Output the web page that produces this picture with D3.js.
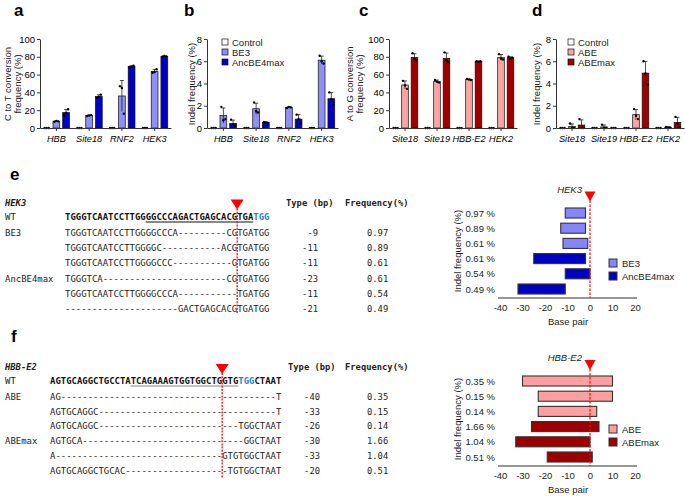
<!DOCTYPE html>
<html>
<head>
<meta charset="utf-8">
<script src="https://cdn.jsdelivr.net/npm/d3@7"></script>
<style>
  body { margin: 0; background: #fff; }
  svg { display: block; font-family: "Liberation Sans", Arial, sans-serif; }
</style>
</head>
<body>
<svg id="fig" width="685" height="496"></svg>
<script>
// ---- panels a-d: replicate values (3 per bar), one array per series ----
const genesAB = ["HBB", "Site18", "RNF2", "HEK3"];
const genesCD = ["Site18", "Site19", "HBB-E2", "HEK2"];
const seriesBE = ["Control", "BE3", "AncBE4max"];
const seriesABE = ["Control", "ABE", "ABEmax"];

const ctrlReps = [[0, 0, 0], [0, 0, 0], [0, 0, 0], [0, 0, 0]];
const aBE3 = [[7, 8, 7.5], [13.5, 14, 14.5], [47, 45, 16], [62, 63, 66]];
const aAnc = [[14, 17, 21], [34, 35, 37.5], [68, 69, 70], [80, 81, 80.5]];
const bBE3 = [[1.9, 0.7, 0.8], [2.3, 1.5, 1.4], [1.8, 1.9, 1.85], [6.5, 6.0, 5.8]];
const bAnc = [[0.75, 0.3, 0.2], [0.55, 0.5, 0.45], [1.2, 0.8, 0.4], [3.2, 2.6, 2.1]];
const cABE = [[53, 48, 44], [54, 52, 51], [55, 54.5, 54], [83, 78, 77]];
const cABEmax = [[84, 78, 76], [85, 76, 74], [75, 74.5, 75], [80, 78, 79]];
const dABE = [[0.4, 0, 0], [0.3, 0, 0], [1.7, 1.1, 0.8], [0.1, 0.05, 0.05]];
const dABEmax = [[0.8, 0, 0], [0, 0, 0], [6.0, 4.9, 3.9], [1.0, 0.4, 0.1]];

const ticksPct = [0, 20, 40, 60, 80, 100];
const ticksIndel = [0, 2, 4, 6, 8];

// ---- panel e ----
const gap = (n) => "-".repeat(n);
const eGene = "HEK3";
const eWT = ["TGGGTCAATCCTTGG", "GGCCCAGACTGAGCACGTGA", "TGG"];
const eLabels = ["BE3", "", "", "AncBE4max", "", ""];
const eSeqs = [
  "TGGGTCAATCCTTGGGGCCCA" + gap(9) + "CGTGATGG",
  "TGGGTCAATCCTTGGGGC" + gap(11) + "ACGTGATGG",
  "TGGGTCAATCCTTGGGGCCC" + gap(11) + "GTGATGG",
  "TGGGTCA" + gap(23) + "CGTGATGG",
  "TGGGTCAATCCTTGGGGCCCA" + gap(11) + "TGATGG",
  gap(21) + "GACTGAGCACGTGATGG",
];
const eTypes = [-9, -11, -11, -23, -11, -21];
const eFreqs = ["0.97", "0.89", "0.61", "0.61", "0.54", "0.49"];
const eEditor = ["BE3", "BE3", "BE3", "AncBE4max", "AncBE4max", "AncBE4max"];
const eStart = [-11, -13, -12, -25, -11, -32];
const eEnd = [-2, -2, -1, -2, 0, -11];

// ---- panel f ----
const fGene = "HBB-E2";
const fWT = ["AGTGCAGGCTGCCTA", "TCAGAAAGTGGTGGCTGGTG", "TGG", "CTAAT"];
const fLabels = ["ABE", "", "", "ABEmax", "", ""];
const fSeqs = [
  "AG" + gap(40) + "T",
  "AGTGCAGGC" + gap(33) + "T",
  "AGTGCAGGC" + gap(26) + "TGGCTAAT",
  "AGTGCA" + gap(30) + "GGCTAAT",
  "A" + gap(31) + "GTGTGGCTAAT",
  "AGTGCAGGCTGCAC" + gap(19) + "TGTGGCTAAT",
];
const fTypes = [-40, -33, -26, -30, -33, -20];
const fFreqs = ["0.35", "0.15", "0.14", "1.66", "1.04", "0.51"];
const fEditor = ["ABE", "ABE", "ABE", "ABEmax", "ABEmax", "ABEmax"];
const fStart = [-30, -23, -23, -26, -33, -19];
const fEnd = [10, 10, 3, 4, 0, 1];

const bpTicks = [-40, -30, -20, -10, 0, 10, 20];

const colors = {
  Control: "#ffffff",
  BE3: "#8f8ff5",
  AncBE4max: "#0000c8",
  ABE: "#f9a3a3",
  ABEmax: "#a00000",
};
const indelColors = {
  BE3: "#8585ff",
  AncBE4max: "#0000c0",
  ABE: "#ff9f9f",
  ABEmax: "#9c0000",
};

const svg = d3.select("#fig");
const MONO = "'DejaVu Sans Mono', 'Liberation Mono', monospace";
const SANS = "Liberation Sans, Arial, sans-serif";
const CW = 5.38; // width of one base in the alignments

const panelLabel = (t, x, y) =>
  svg.append("text").attr("x", x).attr("y", y).attr("font-size", 17)
    .attr("font-weight", "bold").text(t);

panelLabel("a", 14, 16);
panelLabel("b", 184, 16);
panelLabel("c", 359, 16);
panelLabel("d", 532, 16);
panelLabel("e", 10, 180);
panelLabel("f", 11, 342);

// ---------- grouped bar panels ----------
function barPanel(o) {
  const g = svg.append("g");
  const x = d3.scaleBand().domain(o.genes).range([o.x0, o.x0 + o.w])
    .paddingInner(0.2).paddingOuter(0.1);
  const xs = d3.scaleBand().domain(o.series).range([0, x.bandwidth()])
    .paddingInner(0.3);
  const y = d3.scaleLinear().domain([0, o.ymax]).range([128, 39]);

  o.series.forEach((s, si) => {
    o.reps[si].forEach((r, gi) => {
      const m = d3.mean(r);
      const sd = d3.deviation(r) || 0;
      const bx = x(o.genes[gi]) + xs(s);
      const bw = xs.bandwidth();
      if (m > 0) {
        g.append("rect")
          .attr("x", bx).attr("y", y(m))
          .attr("width", bw).attr("height", y(0) - y(m))
          .attr("fill", colors[s]).attr("stroke", "#111").attr("stroke-width", 0.7);
      }
      if (sd > 0) {
        const cx = bx + bw / 2;
        g.append("line").attr("x1", cx).attr("x2", cx)
          .attr("y1", y(Math.max(0, m - sd))).attr("y2", y(m + sd))
          .attr("stroke", "#222").attr("stroke-width", 0.8);
        g.append("line").attr("x1", cx - 2).attr("x2", cx + 2)
          .attr("y1", y(m + sd)).attr("y2", y(m + sd))
          .attr("stroke", "#222").attr("stroke-width", 0.8);
      }
      g.selectAll(null).data(r).join("circle")
        .attr("cx", (d, i) => bx + bw / 2 + (i - 1) * 2)
        .attr("cy", (d) => y(d))
        .attr("r", 1.2).attr("fill", "#000");
    });
  });

  const ya = g.append("g").attr("transform", `translate(${o.x0},0)`)
    .call(d3.axisLeft(y).tickValues(o.ticks).tickSize(3).tickSizeOuter(0).tickPadding(2));
  ya.selectAll("text").attr("font-size", 9.5).attr("font-family", SANS);
  ya.selectAll("path,line").attr("stroke", "#333");

  const xa = g.append("g").attr("transform", `translate(0,${y(0)})`)
    .call(d3.axisBottom(x).tickSize(3).tickSizeOuter(0).tickPadding(4));
  xa.selectAll("text").attr("font-size", 9.2).attr("font-style", "italic")
    .attr("font-family", SANS);
  xa.selectAll("path,line").attr("stroke", "#333");

  o.title.forEach((t, i) => {
    g.append("text")
      .attr("transform", `translate(${o.titleX + i * 10},84) rotate(-90)`)
      .attr("text-anchor", "middle").attr("font-size", 9.5).attr("fill", "#222")
      .text(t);
  });

  if (o.legend) {
    o.series.forEach((s, i) => {
      g.append("rect").attr("x", o.legend[0]).attr("y", o.legend[1] + i * 10 - 3)
        .attr("width", 6).attr("height", 6)
        .attr("fill", colors[s]).attr("stroke", "#111").attr("stroke-width", 0.7);
      g.append("text").attr("x", o.legend[0] + 10).attr("y", o.legend[1] + i * 10 + 3.5)
        .attr("font-size", 9.5).attr("fill", "#222").text(s);
    });
  }
}

barPanel({ x0: 40, w: 131, genes: genesAB, series: seriesBE, reps: [ctrlReps, aBE3, aAnc],
  ymax: 100, ticks: ticksPct, title: ["C to T conversion", "frequency (%)"], titleX: 11 });
barPanel({ x0: 207, w: 131, genes: genesAB, series: seriesBE, reps: [ctrlReps, bBE3, bAnc],
  ymax: 8, ticks: ticksIndel, title: ["Indel frequency (%)"], titleX: 195, legend: [222, 42] });
barPanel({ x0: 389, w: 128, genes: genesCD, series: seriesABE, reps: [ctrlReps, cABE, cABEmax],
  ymax: 100, ticks: ticksPct, title: ["A to G conversion", "frequency (%)"], titleX: 353 });
barPanel({ x0: 556, w: 128, genes: genesCD, series: seriesABE, reps: [ctrlReps, dABE, dABEmax],
  ymax: 8, ticks: ticksIndel, title: ["Indel frequency (%)"], titleX: 540, legend: [568, 42] });

// ---------- sequence alignments ----------
function seqText(g, str, x, y, opts = {}) {
  return g.append("text")
    .attr("x", x).attr("y", y)
    .attr("font-family", MONO).attr("font-size", 8.8)
    .attr("textLength", str.length * CW).attr("lengthAdjust", "spacingAndGlyphs")
    .attr("font-weight", opts.bold ? "bold" : null)
    .attr("fill", opts.color || "#222")
    .text(str);
}

function seqPanel(o) {
  const g = svg.append("g");
  g.append("text").attr("x", 5).attr("y", o.hy + 3).attr("font-family", MONO)
    .attr("font-size", 8.8).attr("font-weight", "bold").attr("font-style", "italic")
    .attr("fill", "#222").text(o.gene);
  g.append("text").attr("x", o.typeX - 32).attr("y", o.hy + 3).attr("font-family", MONO)
    .attr("font-size", 8.8).attr("font-weight", "bold").attr("fill", "#222").text("Type (bp)");
  g.append("text").attr("x", 345).attr("y", o.hy + 3).attr("font-family", MONO)
    .attr("font-size", 8.8).attr("font-weight", "bold").attr("fill", "#222").text("Frequency(%)");

  // WT row
  const wy = o.rows[0] + 3;
  seqText(g, "WT", 5, wy);
  let pos = 0;
  o.wt.forEach((seg, i) => {
    seqText(g, seg, o.x0 + pos * CW, wy, { bold: true, color: i === 2 ? "#2a7fd0" : "#111" });
    if (i === 1) {
      g.append("line").attr("x1", o.x0 + pos * CW).attr("x2", o.x0 + (pos + seg.length) * CW)
        .attr("y1", wy + 2).attr("y2", wy + 2)
        .attr("stroke", o.ulColor).attr("stroke-width", 1.1);
    }
    pos += seg.length;
  });

  o.seqs.forEach((s, i) => {
    const ry = o.rows[i + 1] + 3;
    if (o.labels[i]) seqText(g, o.labels[i], 5, ry);
    seqText(g, s, o.x0, ry);
    g.append("text").attr("x", o.typeX).attr("y", ry).attr("text-anchor", "end")
      .attr("font-family", MONO).attr("font-size", 8.8).attr("fill", "#222").text(o.types[i]);
    g.append("text").attr("x", 367).attr("y", ry)
      .attr("font-family", MONO).attr("font-size", 8.8).attr("fill", "#222").text(o.freqs[i]);
  });

  // cut site: 3 bp upstream of the PAM
  const cx = o.x0 + o.cut * CW;
  g.append("line").attr("x1", cx).attr("x2", cx).attr("y1", o.triY + 9).attr("y2", o.lineEnd)
    .attr("stroke", "#ff0000").attr("stroke-width", 1.3).attr("stroke-dasharray", "2,1.2");
  g.append("path")
    .attr("d", `M${cx - 6.5},${o.triY}L${cx + 6.5},${o.triY}L${cx},${o.triY + 10}Z`)
    .attr("fill", "#ff0000");
}

seqPanel({ gene: eGene, wt: eWT, labels: eLabels, seqs: eSeqs, types: eTypes, freqs: eFreqs,
  x0: 65, hy: 203, rows: [217, 232.5, 248, 263, 278.5, 294, 309], typeX: 318, cut: 32,
  triY: 199.5, lineEnd: 313, ulColor: "#111" });
seqPanel({ gene: fGene, wt: fWT, labels: fLabels, seqs: fSeqs, types: fTypes, freqs: fFreqs,
  x0: 50, hy: 367, rows: [381, 396.5, 411.5, 426, 441, 456, 470.5], typeX: 320, cut: 32,
  triY: 364, lineEnd: 478, ulColor: "#888" });

// ---------- indel position charts ----------
function indelChart(o) {
  const g = svg.append("g");
  const x = d3.scaleLinear().domain([-40, 20]).range([500, 635]);
  const y = d3.scaleBand().domain(d3.range(o.freqs.length)).range(o.yr).paddingInner(0.34).paddingOuter(0.17);

  g.selectAll(null).data(o.freqs).join("rect")
    .attr("x", (d, i) => x(o.start[i]))
    .attr("width", (d, i) => x(o.end[i]) - x(o.start[i]))
    .attr("y", (d, i) => y(i))
    .attr("height", y.bandwidth())
    .attr("fill", (d, i) => indelColors[o.editor[i]])
    .attr("stroke", "#333").attr("stroke-width", 1.1);

  g.selectAll(null).data(o.freqs).join("text")
    .attr("x", 495).attr("y", (d, i) => y(i) + y.bandwidth() / 2 + 3.5)
    .attr("text-anchor", "end").attr("font-size", 9.5).attr("fill", "#222")
    .text((d) => d + " %");

  const xa = g.append("g").attr("transform", `translate(0,${o.axisY})`)
    .call(d3.axisBottom(x).tickValues(bpTicks).tickFormat((d) => String(d))
      .tickSize(0).tickPadding(6).tickSizeOuter(0));
  xa.select(".domain").attr("stroke", "#777").attr("stroke-width", 1.5)
    .attr("d", `M498,0H637`);
  xa.selectAll("text").attr("font-size", 9.5).attr("fill", "#222").attr("font-family", SANS);

  g.append("text").attr("x", 568).attr("y", o.axisY + 27).attr("text-anchor", "middle")
    .attr("font-size", 9.5).attr("fill", "#222").text("Base pair");

  g.append("text")
    .attr("transform", `translate(461,${(o.yr[0] + o.yr[1]) / 2}) rotate(-90)`)
    .attr("text-anchor", "middle").attr("font-size", 9.5).attr("fill", "#222")
    .text("Indel frequency (%)");

  const cx = x(0);
  g.append("line").attr("x1", cx).attr("x2", cx).attr("y1", o.triY + 9).attr("y2", o.axisY)
    .attr("stroke", "#ff0000").attr("stroke-width", 1.2).attr("stroke-dasharray", "2.5,1.5");
  g.append("path")
    .attr("d", `M${cx - 5.5},${o.triY}L${cx + 5.5},${o.triY}L${cx},${o.triY + 10}Z`)
    .attr("fill", "#ff0000");
  g.append("text").attr("x", cx - 8).attr("y", o.triY + 1).attr("text-anchor", "end")
    .attr("font-size", 9.5).attr("font-style", "italic").attr("fill", "#222").text(o.gene);

  o.legend.forEach((s, i) => {
    g.append("rect").attr("x", 609).attr("y", o.legY + i * 13 - 4)
      .attr("width", 8).attr("height", 8)
      .attr("fill", indelColors[s]).attr("stroke", "#333").attr("stroke-width", 1);
    g.append("text").attr("x", 622).attr("y", o.legY + i * 13 + 3.5)
      .attr("font-size", 9.5).attr("fill", "#222").text(s);
  });
}

indelChart({ gene: eGene, freqs: eFreqs, start: eStart, end: eEnd, editor: eEditor,
  yr: [205.4, 296.6], axisY: 298, triY: 191.5, legend: ["BE3", "AncBE4max"], legY: 263 });
indelChart({ gene: fGene, freqs: fFreqs, start: fStart, end: fEnd, editor: fEditor,
  yr: [373.4, 464.6], axisY: 466, triY: 360, legend: ["ABE", "ABEmax"], legY: 429 });
</script>
</body>
</html>
